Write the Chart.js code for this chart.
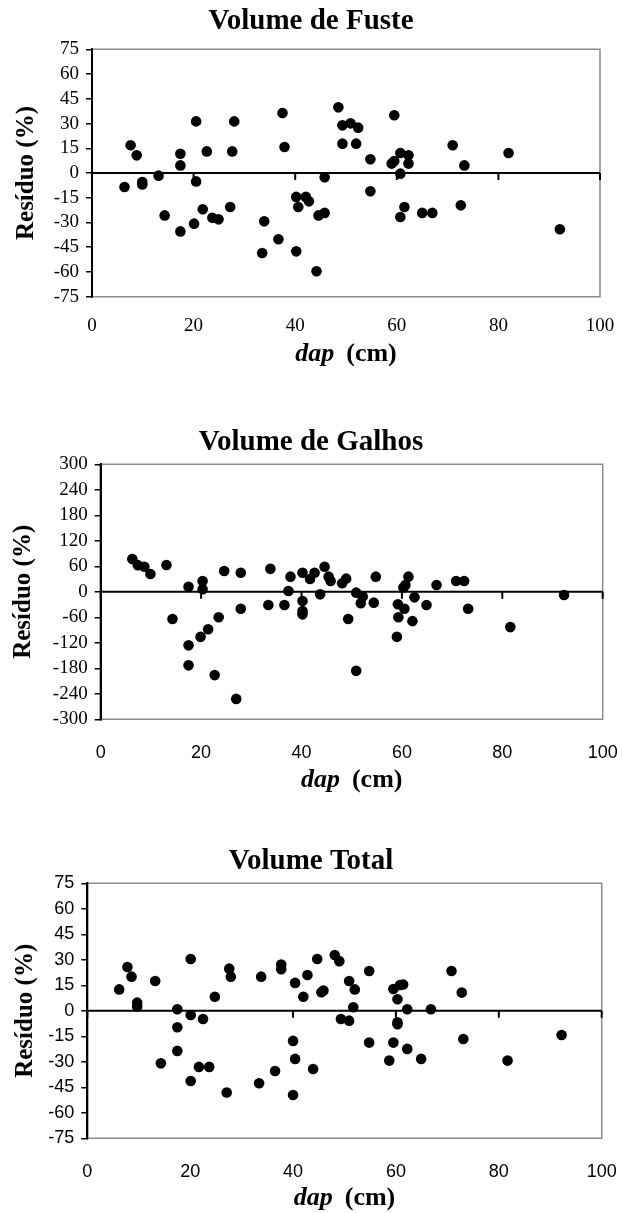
<!DOCTYPE html>
<html>
<head>
<meta charset="utf-8">
<script src="https://cdn.jsdelivr.net/npm/chart.js@4"></script>
<style>
    html, body { margin: 0; padding: 0; background: #fff; }
    body { width: 622px; height: 1213px; position: relative; overflow: hidden; }
    .box { position: absolute; left: 0; width: 622px; }
</style>
</head>
<body>
<div class="box" style="top:0;height:380px"><canvas id="fuste"></canvas></div>
<div class="box" style="top:380px;height:420px"><canvas id="galhos"></canvas></div>
<div class="box" style="top:800px;height:413px"><canvas id="total"></canvas></div>
<script>
// ============================
// DATA
// ============================
const xTicks = [0, 20, 40, 60, 80, 100];
const ticks75 = [-75, -60, -45, -30, -15, 0, 15, 30, 45, 60, 75];
const ticks300 = [-300, -240, -180, -120, -60, 0, 60, 120, 180, 240, 300];

const fusteDap = [6.4, 7.6, 8.8, 9.9, 9.9, 13.1, 14.3, 17.4, 17.4, 17.4, 20.1, 20.5, 20.5, 21.8, 22.6,
    23.7, 24.9, 27.2, 27.6, 28.0, 33.5, 33.9, 36.7, 37.5, 37.9, 40.2, 40.6, 40.2, 42.1, 42.7,
    44.2, 44.6, 45.8, 45.8, 48.5, 49.3, 49.3, 50.9, 52.0, 52.4, 54.8, 54.8, 59.0, 59.5, 59.5,
    60.7, 60.7, 60.7, 61.5, 62.3, 62.3, 65.0, 67.0, 71.0, 72.6, 73.3, 82.0, 92.1];
const fusteResiduo = [-8.5, 16.8, 10.7, -5.5, -7, -1.6, -25.7, 11.7, 4.6, -35.4, -30.7, 31.3, -5.1, -22, 13.1,
    -27.1, -28.1, -20.6, 13.1, 31.3, -48.5, -29.3, -40.2, 36.4, 15.8, -14.5, -20.6, -47.5, -14.5, -17.2,
    -59.6, -25.7, -24.2, -2.6, 39.8, 28.9, 17.8, 30.1, 17.8, 27.5, 8.3, -11.1, 5.7, 7.3, 35,
    12.1, -0.4, -26.7, -20.6, 10.7, 5.7, -24.2, -24.2, 16.8, -19.6, 4.6, 12.1, -34.1];

const galhosDap = [6.3, 7.4, 8.7, 9.9, 13.1, 14.3, 17.5, 17.5, 17.5, 19.9, 20.3, 20.3, 21.4, 22.7, 23.5,
    24.6, 27.0, 27.9, 27.9, 33.4, 33.8, 36.6, 37.4, 37.8, 40.2, 40.2, 40.2, 40.2, 41.7, 42.6,
    43.7, 44.6, 45.4, 45.8, 48.1, 48.9, 49.3, 50.9, 50.9, 51.8, 52.2, 54.4, 54.8, 59.0, 59.2,
    59.3, 60.3, 60.5, 60.7, 61.3, 62.1, 62.5, 64.9, 66.9, 70.8, 72.4, 73.2, 81.6, 92.3];
const galhosResiduo = [77, 62.7, 59, 42, 63, -64, 12, -126, -173, -106, 25.5, 6, -88, -196, -60,
    49, -252, 45, -40, -31, 54, -31, 2, 35.7, 45, -21.6, -45, -53, 30, 45,
    -6, 59, 35.7, 25.5, 20, 31, -64, -2, -186, -27, -11, -25.5, 35.7, -106, -29.4,
    -60, 10, -40, 16, 35.7, -69, -13, -31, 16, 25.5, 25.5, -40, -83, -7.5];

const totalDap = [6.2, 7.8, 8.6, 9.7, 9.7, 13.2, 14.3, 17.5, 17.5, 17.5, 20.1, 20.1, 20.1, 21.7, 22.5,
    23.7, 24.8, 27.1, 27.6, 27.9, 33.4, 33.8, 36.5, 37.7, 37.7, 40.0, 40.4, 40.4, 40.0, 42.0,
    42.8, 43.9, 44.7, 45.5, 45.9, 48.1, 49.0, 49.3, 50.9, 50.9, 51.7, 52.0, 54.8, 54.8, 58.7,
    59.5, 59.5, 60.3, 60.3, 60.3, 60.8, 61.4, 62.2, 62.2, 64.9, 66.8, 70.8, 72.8, 73.1, 81.7, 92.2];
const totalResiduo = [12.6, 25.8, 20.1, 4.8, 2.5, 17.5, -30.9, 0.9, -9.7, -23.6, 30.5, -2.5, -41.3, -33, -4.8,
    -33, 8.3, -48.1, 24.8, 20.1, -42.6, 20.1, -35.4, 27.2, 24.4, -17.7, 16.4, -28.3, -49.5, 8.3,
    21.1, -34.2, 30.5, 10.9, 11.9, 32.8, 29.2, -4.8, -5.8, 17.5, 2.1, 12.6, 23.4, -18.7, -29.3,
    12.8, -18.7, 6.8, -6.8, -7.9, 15.2, 15.5, 0.9, -22.4, -28.3, 0.9, 23.4, 10.7, -16.6, -29.3, -14.2];

const SERIF = "'Liberation Serif', 'Times New Roman', serif";
const SANS = "'Liberation Sans', Arial, sans-serif";

// ============================
// FRAME + TEXT PLUGIN
// ============================
const framePlugin = {
    id: "frame",
    beforeDatasetsDraw(chart, args, o) {
        const { ctx, chartArea: a, scales: { x, y } } = chart;
        ctx.save();

        // grey plot border (top, right, bottom)
        ctx.strokeStyle = "#8c8c8c";
        ctx.lineWidth = 1.5;
        ctx.beginPath();
        ctx.moveTo(a.left, a.top);
        ctx.lineTo(a.right, a.top);
        ctx.lineTo(a.right, a.bottom);
        ctx.lineTo(a.left, a.bottom);
        ctx.stroke();

        // horizontal axis crossing at zero, with tick marks
        const y0 = y.getPixelForValue(0);
        ctx.strokeStyle = "#000";
        ctx.lineWidth = 2;
        ctx.beginPath();
        ctx.moveTo(a.left, y0);
        ctx.lineTo(a.right, y0);
        xTicks.forEach(v => {
            const px = x.getPixelForValue(v);
            ctx.moveTo(px, y0);
            ctx.lineTo(px, y0 + 7);
        });
        ctx.stroke();

        // vertical axis
        ctx.beginPath();
        ctx.moveTo(a.left, a.top - 1);
        ctx.lineTo(a.left, a.bottom + 1);
        ctx.stroke();
        ctx.restore();
    },
    afterDraw(chart, args, o) {
        const { ctx, chartArea: a } = chart;
        ctx.save();
        ctx.fillStyle = "#000";
        ctx.textBaseline = "middle";

        // title
        ctx.textAlign = "center";
        ctx.font = "bold 29px " + SERIF;
        ctx.fillText(o.title, chart.width / 2, o.titleY);

        // y title
        ctx.save();
        ctx.translate(o.yTitleX, (a.top + a.bottom) / 2);
        ctx.rotate(-Math.PI / 2);
        ctx.font = "bold 25px " + SERIF;
        ctx.fillText("Resíduo (%)", 0, 0);
        ctx.restore();

        // x title: italic "dap" + "(cm)"
        const f1 = "italic bold 26px " + SERIF;
        const f2 = "bold 26px " + SERIF;
        ctx.font = f1;
        const w1 = ctx.measureText("dap").width;
        ctx.font = f2;
        const w2 = ctx.measureText("(cm)").width;
        const gap = 12;
        let sx = (a.left + a.right) / 2 - (w1 + gap + w2) / 2;
        ctx.textAlign = "left";
        ctx.font = f1;
        ctx.fillText("dap", sx, o.xTitleY);
        ctx.font = f2;
        ctx.fillText("(cm)", sx + w1 + gap, o.xTitleY);
        ctx.restore();
    }
};

// ============================
// CHART BUILDER
// ============================
function makeChart(id, dap, residuo, yTicks, s) {
    const points = dap.map((d, i) => ({ x: d, y: residuo[i] }));

    new Chart(document.getElementById(id), {
        type: "scatter",
        data: {
            datasets: [{
                data: points,
                pointRadius: 5.3,
                pointHoverRadius: 5.3,
                pointBackgroundColor: "#000",
                pointBorderWidth: 0,
                showLine: false
            }]
        },
        options: {
            responsive: true,
            maintainAspectRatio: false,
            animation: false,
            events: [],
            layout: { padding: { left: 0, top: s.top, right: s.right, bottom: 0 } },
            plugins: {
                legend: { display: false },
                tooltip: { enabled: false },
                frame: s.text
            },
            scales: {
                x: {
                    type: "linear",
                    min: xTicks[0],
                    max: xTicks[xTicks.length - 1],
                    afterBuildTicks: sc => { sc.ticks = xTicks.map(v => ({ value: v })); },
                    afterFit: sc => {
                        sc.height = s.xHeight;
                        // label padding would otherwise widen the right margin
                        sc.paddingLeft = 0;
                        sc.paddingRight = 0;
                    },
                    grid: { display: false, drawTicks: false },
                    border: { display: false },
                    ticks: {
                        autoSkip: false,
                        maxRotation: 0,
                        padding: s.xPad,
                        color: "#000",
                        font: { family: s.xFont, size: s.xSize }
                    }
                },
                y: {
                    type: "linear",
                    min: yTicks[0],
                    max: yTicks[yTicks.length - 1],
                    afterBuildTicks: sc => { sc.ticks = yTicks.map(v => ({ value: v })); },
                    afterFit: sc => { sc.width = s.left; },
                    grid: {
                        drawOnChartArea: false,
                        drawTicks: true,
                        tickLength: 6,
                        color: "#000",
                        lineWidth: 1.5
                    },
                    border: { display: true, color: "#000", width: 2 },
                    ticks: {
                        autoSkip: false,
                        padding: 7,
                        color: "#000",
                        font: { family: s.yFont, size: s.ySize, lineHeight: 1 }
                    }
                }
            }
        },
        plugins: [framePlugin]
    });
}

makeChart("fuste", fusteDap, fusteResiduo, ticks75, {
    top: 49.3, right: 22, left: 92, xHeight: 83.3,
    xPad: 18, xFont: SERIF, xSize: 19, yFont: SERIF, ySize: 19,
    text: { title: "Volume de Fuste", titleY: 22, yTitleX: 27, xTitleY: 354 }
});

makeChart("galhos", galhosDap, galhosResiduo, ticks300, {
    top: 84.3, right: 19.3, left: 100.7, xHeight: 80.7,
    xPad: 23, xFont: SANS, xSize: 18, yFont: SERIF, ySize: 19,
    text: { title: "Volume de Galhos", titleY: 63, yTitleX: 24, xTitleY: 400 }
});

makeChart("total", totalDap, totalResiduo, ticks75, {
    top: 83.3, right: 20.3, left: 87.3, xHeight: 74.7,
    xPad: 23, xFont: SANS, xSize: 18, yFont: SANS, ySize: 18,
    text: { title: "Volume Total", titleY: 61.7, yTitleX: 26, xTitleY: 398 }
});
</script>
</body>
</html>
